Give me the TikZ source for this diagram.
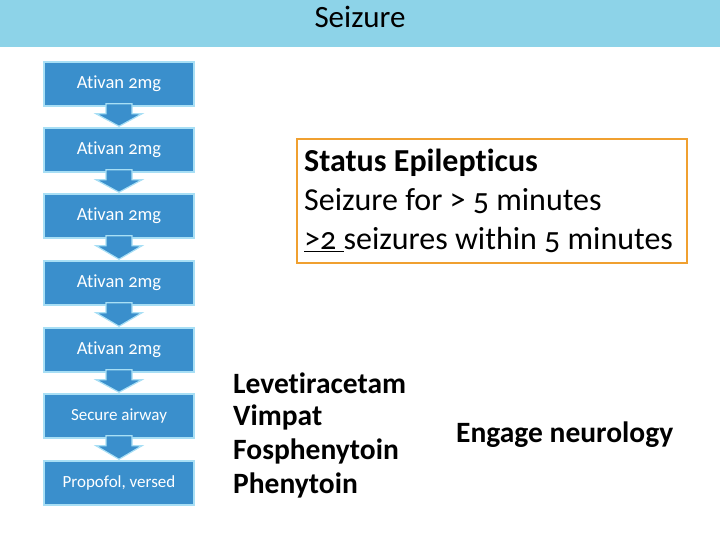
\documentclass[tikz,border=0pt]{standalone}
\usepackage{fontspec}
\setmainfont{Carlito}[Numbers=OldStyle,Ligatures=NoCommon]
\usetikzlibrary{calc}
\begin{document}
\begin{tikzpicture}[x=1pt,y=-1pt,
  stepbox/.style={draw=arrowedge, line width=1.5pt, fill=boxblue, text=white, minimum width=150pt, minimum height=44pt, inner sep=0pt, font=\fontsize{18.5}{20}\selectfont},
  bigtxt/.style={font=\fontsize{32}{36}\selectfont, anchor=west, inner sep=0pt},
  listtxt/.style={font=\bfseries\fontsize{29.5}{32}\selectfont, anchor=west, inner sep=0pt}]
\definecolor{boxblue}{HTML}{3A8FCC}
\definecolor{topbar}{HTML}{8DD3E8}
\definecolor{arrowedge}{HTML}{A8DFF5}
\definecolor{orangeb}{HTML}{F0A030}
\useasboundingbox (0,0) rectangle (720,540);
\fill[topbar] (0,0) rectangle (720,47);
\node[font=\fontsize{31}{34}\selectfont] (title) at (360,17) {Seizure};
\foreach \n/\y/\t in {1/84/Ativan 2mg,2/150/Ativan 2mg,3/216/Ativan 2mg,4/283/Ativan 2mg,5/350/Ativan 2mg}
  \node[stepbox] (b\n) at (119,\y) {\t};
\node[stepbox,font=\fontsize{17}{19}\selectfont] (b6) at (119,416) {Secure airway};
\node[stepbox,font=\fontsize{17}{19}\selectfont] (b7) at (119,483) {Propofol, versed};
\foreach \a/\b in {1/2,2/3,3/4,4/5,5/6,6/7}{
  \path (b\a.south) ++(0,-3) coordinate (s\a);
  \draw[arrowedge, line width=1.2pt, fill=boxblue, line join=miter]
    ($(s\a)+(-13,0)$) -- ++(0,10) -- ++(-10,0) -- ($(b\b.north)+(0,-1)$) -- ($(s\a)+(23,10)$) -- ++(-10,0) -- ++(0,-10) -- cycle;
}
\node[draw=orangeb, line width=2pt, minimum width=390pt, minimum height=124pt] (se) at (491.5,201) {};
\node[bigtxt,font=\bfseries\fontsize{32}{36}\selectfont] (s1) at (304,163) {Status Epilepticus};
\node[bigtxt] (s2) at (304,201) {Seizure for > 5 minutes};
\node[bigtxt] (s3) at (304,240) {\underline{>2 }seizures within 5 minutes};
\node[listtxt] (l1) at (233,383) {Levetiracetam};
\node[listtxt] (l2) at (233,417) {Vimpat};
\node[listtxt] (l3) at (233,451) {Fosphenytoin};
\node[listtxt] (l4) at (233,485) {Phenytoin};
\node[listtxt] (en) at (456,435) {Engage neurology};
\end{tikzpicture}
\end{document}
